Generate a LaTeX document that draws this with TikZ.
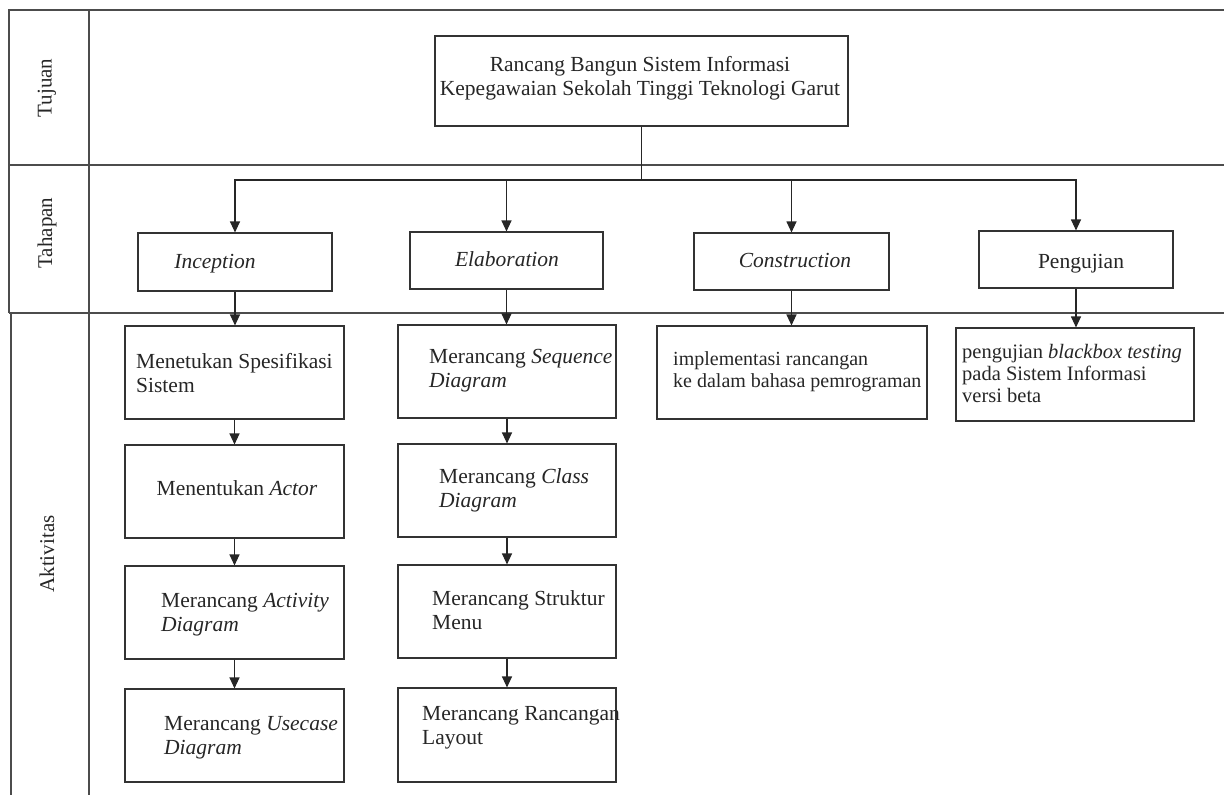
\documentclass[tikz,border=0pt]{standalone}
\usepackage{fontspec}
\setmainfont{Liberation Serif}
\usetikzlibrary{arrows.meta}
\begin{document}
\begin{tikzpicture}[x=1pt,y=-1pt,
  frame/.style={draw=black!70,line width=1.4pt},
  box/.style={draw=black!80,line width=1.1pt,rectangle,inner sep=0pt},
  txt/.style={inner sep=0pt,text=black!85,align=left,font=\fontsize{21.5}{24}\selectfont},
  ctxt/.style={inner sep=0pt,text=black!85,align=center,font=\fontsize{21.5}{23.5}\selectfont},
  lane/.style={inner sep=0pt,text=black!85,rotate=90,font=\fontsize{21}{24}\selectfont},
  arr/.style={draw=black!85,line width=1.1pt,-{Triangle[length=11pt,width=10pt]}},
  conn/.style={draw=black!85,line width=1.1pt}]
\useasboundingbox (0,0) rectangle (1224,795);
% swimlane frame
\draw[frame] (1224,10) -- (9,10) -- (9,313);
\draw[frame] (11,313) -- (11,795);
\draw[frame] (89,10) -- (89,795);
\draw[frame] (9,165) -- (1224,165);
\draw[frame] (9,313) -- (1224,313);
\node[lane] (lTujuan) at (47,88) {Tujuan};
\node[lane] (lTahapan) at (47,233) {Tahapan};
\node[lane] (lAktivitas) at (47,554) {Aktivitas};
% goal
\node[box,minimum width=413pt,minimum height=90pt] (goal) at (641.5,81) {};
\node[ctxt,anchor=base] (tgoal) at (640,95) {Rancang Bangun Sistem Informasi\\Kepegawaian Sekolah Tinggi Teknologi Garut};
% stages
\node[box,minimum width=194pt,minimum height=58pt] (inc) at (235,262) {};
\node[box,minimum width=193pt,minimum height=57pt] (ela) at (506.5,260.5) {};
\node[box,minimum width=195pt,minimum height=57pt] (con) at (791.5,261.5) {};
\node[box,minimum width=194pt,minimum height=57pt] (pen) at (1076,259.5) {};
\node[ctxt,anchor=base] (tinc) at (215,268) {\itshape Inception};
\node[ctxt,anchor=base] (tela) at (507,266) {\itshape Elaboration};
\node[ctxt,anchor=base] (tcon) at (795,267) {\itshape Construction};
\node[ctxt,anchor=base] (tpen) at (1081,268) {Pengujian};
% activities column 1
\node[box,minimum width=219pt,minimum height=93pt] (a1) at (234.5,372.5) {};
\node[box,minimum width=219pt,minimum height=93pt] (a2) at (234.5,491.5) {};
\node[box,minimum width=219pt,minimum height=93pt] (a3) at (234.5,612.5) {};
\node[box,minimum width=219pt,minimum height=93pt] (a4) at (234.5,735.5) {};
\node[txt,anchor=base west] (ta1) at (136,392) {Menetukan Spesifikasi\\Sistem};
\node[txt,anchor=base] (ta2) at (237,495) {Menentukan \textit{Actor}};
\node[txt,anchor=base west] (ta3) at (161,631) {Merancang \textit{Activity}\\\textit{Diagram}};
\node[txt,anchor=base west] (ta4) at (164,754) {Merancang \textit{Usecase}\\\textit{Diagram}};
% activities column 2
\node[box,minimum width=218pt,minimum height=93pt] (b1) at (507,371.5) {};
\node[box,minimum width=218pt,minimum height=93pt] (b2) at (507,490.5) {};
\node[box,minimum width=218pt,minimum height=93pt] (b3) at (507,611.5) {};
\node[box,minimum width=218pt,minimum height=94pt] (b4) at (507,735) {};
\node[txt,anchor=base west] (tb1) at (429,387) {Merancang \textit{Sequence}\\\textit{Diagram}};
\node[txt,anchor=base west] (tb2) at (439,507) {Merancang \textit{Class}\\\textit{Diagram}};
\node[txt,anchor=base west] (tb3) at (432,629) {Merancang Struktur\\Menu};
\node[txt,anchor=base west] (tb4) at (422,744) {Merancang Rancangan\\Layout};
% construction / pengujian activities
\node[box,minimum width=270pt,minimum height=93pt] (c1) at (792,372.5) {};
\node[txt,anchor=base west,font=\fontsize{20}{22}\selectfont] (tc1) at (673,387) {implementasi rancangan\\ke dalam bahasa pemrograman};
\node[box,minimum width=238pt,minimum height=93pt] (p1) at (1075,374.5) {};
\node[txt,anchor=base west,font=\fontsize{20.5}{22}\selectfont] (tp1) at (962,402) {pengujian \textit{blackbox testing}\\pada Sistem Informasi\\versi beta};
% connectors
\coordinate (bus) at (641.5,180);
\draw[conn] (goal.south) -- (bus);
\draw[arr] (bus) -| (inc.north);
\draw[arr] (bus) -| (ela.north);
\draw[arr] (bus) -| (con.north);
\draw[arr] (bus) -| (pen.north);
\draw[arr] (inc.south) -- (inc.south |- a1.north);
\draw[arr] (a1.south) -- (a2.north);
\draw[arr] (a2.south) -- (a3.north);
\draw[arr] (a3.south) -- (a4.north);
\draw[arr] (ela.south) -- (ela.south |- b1.north);
\draw[arr] (b1.south) -- (b2.north);
\draw[arr] (b2.south) -- (b3.north);
\draw[arr] (b3.south) -- (b4.north);
\draw[arr] (con.south) -- (con.south |- c1.north);
\draw[arr] (pen.south) -- (pen.south |- p1.north);
\end{tikzpicture}
\end{document}
